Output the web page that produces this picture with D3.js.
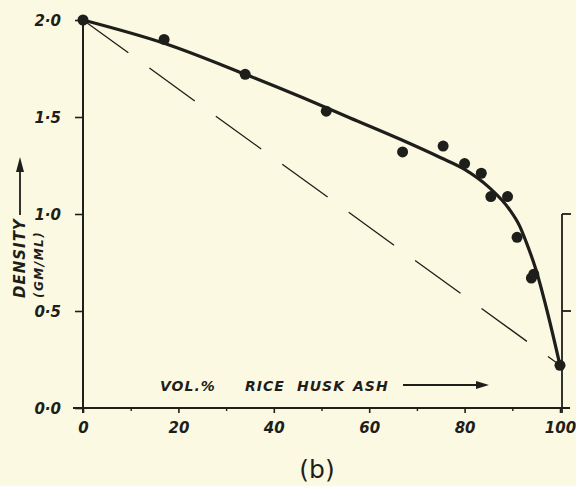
<!DOCTYPE html>
<html>
<meta charset="utf-8">
<head>
  <script src="https://d3js.org/d3.v7.js"></script>
  <style>
    body { margin: 0; background: #fcf9e3; }
    svg text { font-family: "DejaVu Sans", sans-serif; fill: #1e1e1a; }
  </style>
</head>
<body>
  <svg id="graph" width="576" height="486"></svg>
  <script>
    // measured points
    var volPct = [0, 17, 34, 51, 67, 75.5, 80, 83.5, 85.5, 89, 91, 94, 94.5, 100];
    var density = [2.0, 1.90, 1.72, 1.53, 1.32, 1.35, 1.26, 1.21, 1.09, 1.09, 0.88, 0.67, 0.69, 0.22];

    // smooth curve drawn through the points
    var fitX = [0, 17, 34, 46, 56, 66.5, 75, 80, 85, 89.5, 91.5, 93, 95, 97.3, 100];
    var fitY = [2.0, 1.88, 1.72, 1.60, 1.495, 1.385, 1.29, 1.23, 1.14, 1.02, 0.94, 0.85, 0.71, 0.50, 0.22];

    // rule of mixtures (dashed)
    var mixX = [0, 100];
    var mixY = [2.0, 0.22];

    var xTicks = [0, 20, 40, 60, 80, 100];
    var xMinor = [10, 30, 50, 70, 90];
    var yTicks = [0, 0.5, 1.0, 1.5, 2.0];
    var yTickLabels = ["0·0", "0·5", "1·0", "1·5", "2·0"];

    var ink = "#1e1e1a";
    var svg = d3.select("svg#graph");

    var x = d3.scaleLinear().domain([0, 100]).range([83, 560]);
    var y = d3.scaleLinear().domain([0, 2]).range([408, 20]);

    // x axis: major ticks + minor ticks
    var xAxis = svg.append("g")
      .attr("transform", "translate(0," + y(0) + ")")
      .call(d3.axisBottom(x).tickValues(xTicks).tickSize(5).tickFormat(d3.format("d")));
    xAxis.select(".domain").remove();
    xAxis.selectAll("line").attr("stroke", ink).attr("stroke-width", 1.6);
    xAxis.selectAll("text")
      .attr("y", 14).attr("font-size", 15).attr("font-weight", "bold")
      .style("font-style", "italic").attr("fill", ink);

    var xAxisMinor = svg.append("g")
      .attr("transform", "translate(0," + y(0) + ")")
      .call(d3.axisBottom(x).tickValues(xMinor).tickSize(3).tickFormat(""));
    xAxisMinor.select(".domain").remove();
    xAxisMinor.selectAll("line").attr("stroke", ink).attr("stroke-width", 1.4);

    svg.append("line")
      .attr("x1", x(0) - 10).attr("x2", x(100) + 10)
      .attr("y1", y(0)).attr("y2", y(0))
      .attr("stroke", ink).attr("stroke-width", 2);

    // y axis
    var yAxis = svg.append("g")
      .attr("transform", "translate(" + x(0) + ",0)")
      .call(d3.axisLeft(y).tickValues(yTicks).tickSize(8)
        .tickFormat(function(d, i) { return yTickLabels[i]; }));
    yAxis.select(".domain").remove();
    yAxis.selectAll("line").attr("stroke", ink).attr("stroke-width", 1.6);
    yAxis.selectAll("text")
      .attr("x", -22).attr("dy", "0.35em").attr("font-size", 15).attr("font-weight", "bold")
      .style("font-style", "italic").attr("fill", ink);

    svg.append("line")
      .attr("x1", x(0)).attr("x2", x(0))
      .attr("y1", y(2)).attr("y2", y(0) + 5)
      .attr("stroke", ink).attr("stroke-width", 2);

    // partial right-hand scale at 100 %
    var rx = x(100) + 2;
    svg.append("line")
      .attr("x1", rx).attr("x2", rx)
      .attr("y1", y(1.0)).attr("y2", y(0) + 5)
      .attr("stroke", ink).attr("stroke-width", 1.8);
    svg.selectAll("line.rtick")
      .data([1.0, 0.5])
      .enter().append("line")
      .attr("class", "rtick")
      .attr("x1", rx).attr("x2", rx + 9)
      .attr("y1", function(d) { return y(d); })
      .attr("y2", function(d) { return y(d); })
      .attr("stroke", ink).attr("stroke-width", 1.8);

    // dashed mixing line
    var mixData = mixX.map(function(d, i) { return [d, mixY[i]]; });
    svg.append("path")
      .datum(mixData)
      .attr("d", d3.line().x(function(d) { return x(d[0]); }).y(function(d) { return y(d[1]); }))
      .attr("fill", "none")
      .attr("stroke", ink)
      .attr("stroke-width", 1.3)
      .attr("stroke-dasharray", "56,26");

    // fitted curve
    var fitData = fitX.map(function(d, i) { return [d, fitY[i]]; });
    svg.append("path")
      .datum(fitData)
      .attr("d", d3.line()
        .x(function(d) { return x(d[0]); })
        .y(function(d) { return y(d[1]); })
        .curve(d3.curveMonotoneX))
      .attr("fill", "none")
      .attr("stroke", ink)
      .attr("stroke-width", 3.2);

    // data points
    svg.selectAll("circle.pt")
      .data(volPct)
      .enter().append("circle")
      .attr("class", "pt")
      .attr("cx", function(d) { return x(d); })
      .attr("cy", function(d, i) { return y(density[i]); })
      .attr("r", 5.5)
      .attr("fill", ink);

    // x axis title with arrow
    var xWords = ["VOL.%", "RICE", "HUSK", "ASH"];
    var xWordPos = [160, 245, 297, 353];
    svg.append("text")
      .attr("y", 391)
      .attr("font-size", 14).attr("font-weight", "bold")
      .style("font-style", "italic")
      .attr("letter-spacing", 1)
      .selectAll("tspan")
      .data(xWords)
      .enter().append("tspan")
      .attr("x", function(d, i) { return xWordPos[i]; })
      .text(function(d) { return d; });
    svg.append("line")
      .attr("x1", 403).attr("x2", 478)
      .attr("y1", 385).attr("y2", 385)
      .attr("stroke", ink).attr("stroke-width", 1.8);
    svg.append("path")
      .attr("d", "M476,381 L489,385 L476,389 Z")
      .attr("fill", ink);

    // y axis title with arrow
    svg.append("text")
      .attr("transform", "translate(25,298) rotate(-90)")
      .attr("font-size", 15).attr("font-weight", "bold")
      .style("font-style", "italic")
      .attr("letter-spacing", 1)
      .text("DENSITY");
    svg.append("text")
      .attr("transform", "translate(43,298) rotate(-90)")
      .attr("font-size", 12).attr("font-weight", "bold")
      .style("font-style", "italic")
      .attr("letter-spacing", 1.5)
      .text("(GM/ML)");
    svg.append("line")
      .attr("x1", 20).attr("x2", 20)
      .attr("y1", 215).attr("y2", 170)
      .attr("stroke", ink).attr("stroke-width", 1.8);
    svg.append("path")
      .attr("d", "M16,172 L20,157 L24,172 Z")
      .attr("fill", ink);

    // panel label
    svg.append("text")
      .attr("x", 317).attr("y", 478)
      .attr("text-anchor", "middle")
      .attr("font-size", 25)
      .text("(b)");
  </script>
</body>
</html>
